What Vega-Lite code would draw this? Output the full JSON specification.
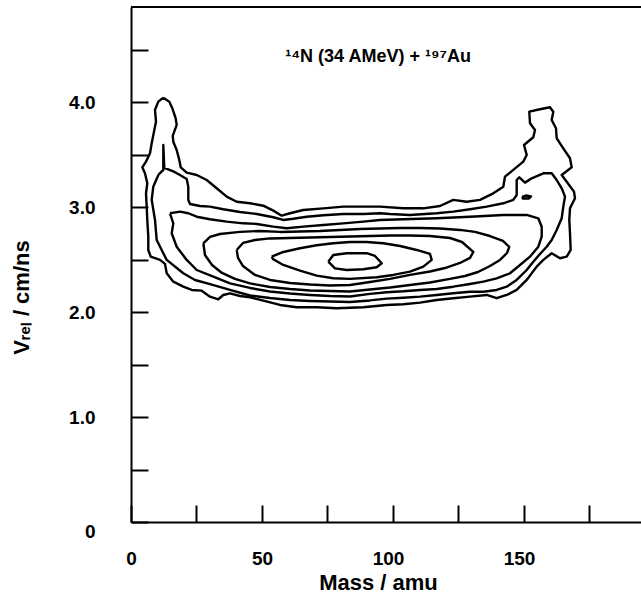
{
"$schema": "https://vega.github.io/schema/vega-lite/v6.json",
"width": 510, "height": 515,
"autosize": "none",
"padding": {"left": 131, "top": 7, "right": 0, "bottom": 73},
"background": "white",
"config": {"view": {"stroke": null}, "font": "Liberation Sans"},
"datasets": {
"label": [{"m": 94.3, "v": 4.433, "t": "¹⁴N (34 AMeV) + ¹⁹⁷Au"}],
"contours": [
{"c":1,"i":0,"m":12.33,"v":4.045},{"c":1,"i":1,"m":14.62,"v":4.007},{"c":1,"i":2,"m":15.92,"v":3.934},{"c":1,"i":3,"m":17.06,"v":3.848},{"c":1,"i":4,"m":17.44,"v":3.785},{"c":1,"i":5,"m":15.92,"v":3.68},{"c":1,"i":6,"m":16.15,"v":3.625},{"c":1,"i":7,"m":17.44,"v":3.546},{"c":1,"i":8,"m":18.43,"v":3.451},{"c":1,"i":9,"m":18.97,"v":3.381},{"c":1,"i":10,"m":21.26,"v":3.33},{"c":1,"i":11,"m":25.08,"v":3.308},{"c":1,"i":12,"m":28.89,"v":3.26},{"c":1,"i":13,"m":32.71,"v":3.181},{"c":1,"i":14,"m":36.53,"v":3.101},{"c":1,"i":15,"m":40.34,"v":3.053},{"c":1,"i":16,"m":45.42,"v":3.038},{"c":1,"i":17,"m":50.5,"v":3.015},{"c":1,"i":18,"m":54.31,"v":2.968},{"c":1,"i":19,"m":57.52,"v":2.92},{"c":1,"i":20,"m":60.69,"v":2.943},{"c":1,"i":21,"m":65.76,"v":2.974},{"c":1,"i":22,"m":73.4,"v":2.99},{"c":1,"i":23,"m":81.03,"v":3.006},{"c":1,"i":24,"m":88.66,"v":3.006},{"c":1,"i":25,"m":95.04,"v":3.006},{"c":1,"i":26,"m":103.93,"v":2.99},{"c":1,"i":27,"m":111.56,"v":2.99},{"c":1,"i":28,"m":117.94,"v":3.012},{"c":1,"i":29,"m":123.02,"v":3.07},{"c":1,"i":30,"m":128.13,"v":3.053},{"c":1,"i":31,"m":133.21,"v":3.07},{"c":1,"i":32,"m":138.28,"v":3.133},{"c":1,"i":33,"m":142.1,"v":3.196},{"c":1,"i":34,"m":142.75,"v":3.292},{"c":1,"i":35,"m":145.92,"v":3.356},{"c":1,"i":36,"m":149.73,"v":3.435},{"c":1,"i":37,"m":151.03,"v":3.499},{"c":1,"i":38,"m":150.0,"v":3.594},{"c":1,"i":39,"m":153.55,"v":3.667},{"c":1,"i":40,"m":154.2,"v":3.737},{"c":1,"i":41,"m":152.29,"v":3.801},{"c":1,"i":42,"m":152.02,"v":3.911},{"c":1,"i":43,"m":156.11,"v":3.934},{"c":1,"i":44,"m":159.92,"v":3.953},{"c":1,"i":45,"m":161.18,"v":3.911},{"c":1,"i":46,"m":160.57,"v":3.832},{"c":1,"i":47,"m":162.21,"v":3.753},{"c":1,"i":48,"m":162.48,"v":3.658},{"c":1,"i":49,"m":165.0,"v":3.562},{"c":1,"i":50,"m":167.56,"v":3.467},{"c":1,"i":51,"m":168.21,"v":3.381},{"c":1,"i":52,"m":164.39,"v":3.308},{"c":1,"i":53,"m":166.3,"v":3.244},{"c":1,"i":54,"m":169.08,"v":3.149},{"c":1,"i":55,"m":169.47,"v":3.086},{"c":1,"i":56,"m":167.56,"v":2.99},{"c":1,"i":57,"m":167.29,"v":2.879},{"c":1,"i":58,"m":167.56,"v":2.752},{"c":1,"i":59,"m":167.82,"v":2.593},{"c":1,"i":60,"m":166.3,"v":2.529},{"c":1,"i":61,"m":163.74,"v":2.514},{"c":1,"i":62,"m":160.57,"v":2.562},{"c":1,"i":63,"m":157.37,"v":2.498},{"c":1,"i":64,"m":154.85,"v":2.434},{"c":1,"i":65,"m":151.03,"v":2.307},{"c":1,"i":66,"m":147.21,"v":2.212},{"c":1,"i":67,"m":143.4,"v":2.164},{"c":1,"i":68,"m":139.58,"v":2.133},{"c":1,"i":69,"m":135.76,"v":2.164},{"c":1,"i":70,"m":129.39,"v":2.148},{"c":1,"i":71,"m":123.02,"v":2.133},{"c":1,"i":72,"m":116.68,"v":2.116},{"c":1,"i":73,"m":110.31,"v":2.091},{"c":1,"i":74,"m":103.93,"v":2.075},{"c":1,"i":75,"m":97.6,"v":2.069},{"c":1,"i":76,"m":88.66,"v":2.047},{"c":1,"i":77,"m":78.51,"v":2.037},{"c":1,"i":78,"m":70.88,"v":2.047},{"c":1,"i":79,"m":63.24,"v":2.047},{"c":1,"i":80,"m":56.87,"v":2.069},{"c":1,"i":81,"m":50.5,"v":2.11},{"c":1,"i":82,"m":45.42,"v":2.142},{"c":1,"i":83,"m":41.6,"v":2.154},{"c":1,"i":84,"m":37.79,"v":2.18},{"c":1,"i":85,"m":35.23,"v":2.164},{"c":1,"i":86,"m":33.32,"v":2.123},{"c":1,"i":87,"m":30.15,"v":2.148},{"c":1,"i":88,"m":26.98,"v":2.205},{"c":1,"i":89,"m":23.17,"v":2.212},{"c":1,"i":90,"m":19.96,"v":2.243},{"c":1,"i":91,"m":16.15,"v":2.291},{"c":1,"i":92,"m":13.63,"v":2.371},{"c":1,"i":93,"m":12.98,"v":2.46},{"c":1,"i":94,"m":11.07,"v":2.498},{"c":1,"i":95,"m":7.52,"v":2.529},{"c":1,"i":96,"m":6.6,"v":2.593},{"c":1,"i":97,"m":6.6,"v":2.72},{"c":1,"i":98,"m":6.22,"v":2.879},{"c":1,"i":99,"m":5.99,"v":3.006},{"c":1,"i":100,"m":5.73,"v":3.133},{"c":1,"i":101,"m":6.22,"v":3.229},{"c":1,"i":102,"m":5.34,"v":3.324},{"c":1,"i":103,"m":4.31,"v":3.381},{"c":1,"i":104,"m":5.73,"v":3.435},{"c":1,"i":105,"m":7.25,"v":3.515},{"c":1,"i":106,"m":7.9,"v":3.61},{"c":1,"i":107,"m":8.78,"v":3.721},{"c":1,"i":108,"m":9.54,"v":3.816},{"c":1,"i":109,"m":9.16,"v":3.928},{"c":1,"i":110,"m":10.42,"v":4.007},{"c":1,"i":111,"m":12.33,"v":4.045},
{"c":2,"i":0,"m":10.42,"v":3.308},{"c":2,"i":1,"m":12.33,"v":3.356},{"c":2,"i":2,"m":12.33,"v":3.594},{"c":2,"i":3,"m":12.71,"v":3.375},{"c":2,"i":4,"m":16.15,"v":3.342},{"c":2,"i":5,"m":18.7,"v":3.308},{"c":2,"i":6,"m":21.26,"v":3.269},{"c":2,"i":7,"m":21.87,"v":3.196},{"c":2,"i":8,"m":21.87,"v":3.07},{"c":2,"i":9,"m":22.52,"v":3.031},{"c":2,"i":10,"m":26.34,"v":3.012},{"c":2,"i":11,"m":30.15,"v":3.006},{"c":2,"i":12,"m":35.23,"v":2.981},{"c":2,"i":13,"m":41.6,"v":2.955},{"c":2,"i":14,"m":47.98,"v":2.936},{"c":2,"i":15,"m":54.31,"v":2.905},{"c":2,"i":16,"m":58.13,"v":2.879},{"c":2,"i":17,"m":61.95,"v":2.891},{"c":2,"i":18,"m":67.06,"v":2.91},{"c":2,"i":19,"m":73.4,"v":2.924},{"c":2,"i":20,"m":81.03,"v":2.936},{"c":2,"i":21,"m":88.66,"v":2.936},{"c":2,"i":22,"m":95.04,"v":2.943},{"c":2,"i":23,"m":98.85,"v":2.936},{"c":2,"i":24,"m":106.49,"v":2.927},{"c":2,"i":25,"m":116.68,"v":2.943},{"c":2,"i":26,"m":123.02,"v":2.958},{"c":2,"i":27,"m":129.39,"v":2.981},{"c":2,"i":28,"m":135.76,"v":3.006},{"c":2,"i":29,"m":142.1,"v":3.038},{"c":2,"i":30,"m":145.92,"v":3.07},{"c":2,"i":31,"m":147.21,"v":3.117},{"c":2,"i":32,"m":147.21,"v":3.26},{"c":2,"i":33,"m":148.21,"v":3.286},{"c":2,"i":34,"m":150.38,"v":3.235},{"c":2,"i":35,"m":152.94,"v":3.276},{"c":2,"i":36,"m":157.37,"v":3.324},{"c":2,"i":37,"m":160.57,"v":3.324},{"c":2,"i":38,"m":162.48,"v":3.26},{"c":2,"i":39,"m":164.39,"v":3.181},{"c":2,"i":40,"m":165.65,"v":3.101},{"c":2,"i":41,"m":165.0,"v":3.006},{"c":2,"i":42,"m":164.39,"v":2.895},{"c":2,"i":43,"m":162.48,"v":2.784},{"c":2,"i":44,"m":160.57,"v":2.688},{"c":2,"i":45,"m":158.66,"v":2.624},{"c":2,"i":46,"m":156.11,"v":2.555},{"c":2,"i":47,"m":153.55,"v":2.481},{"c":2,"i":48,"m":151.03,"v":2.402},{"c":2,"i":49,"m":147.21,"v":2.307},{"c":2,"i":50,"m":143.4,"v":2.243},{"c":2,"i":51,"m":139.58,"v":2.212},{"c":2,"i":52,"m":134.47,"v":2.195},{"c":2,"i":53,"m":129.39,"v":2.195},{"c":2,"i":54,"m":123.02,"v":2.18},{"c":2,"i":55,"m":116.68,"v":2.164},{"c":2,"i":56,"m":110.31,"v":2.148},{"c":2,"i":57,"m":103.93,"v":2.138},{"c":2,"i":58,"m":97.6,"v":2.129},{"c":2,"i":59,"m":91.22,"v":2.112},{"c":2,"i":60,"m":83.59,"v":2.097},{"c":2,"i":61,"m":75.95,"v":2.102},{"c":2,"i":62,"m":68.32,"v":2.107},{"c":2,"i":63,"m":60.69,"v":2.116},{"c":2,"i":64,"m":53.05,"v":2.135},{"c":2,"i":65,"m":45.42,"v":2.159},{"c":2,"i":66,"m":37.79,"v":2.212},{"c":2,"i":67,"m":30.15,"v":2.268},{"c":2,"i":68,"m":24.43,"v":2.307},{"c":2,"i":69,"m":19.96,"v":2.371},{"c":2,"i":70,"m":13.63,"v":2.498},{"c":2,"i":71,"m":12.33,"v":2.562},{"c":2,"i":72,"m":9.81,"v":2.688},{"c":2,"i":73,"m":9.16,"v":2.879},{"c":2,"i":74,"m":7.9,"v":3.07},{"c":2,"i":75,"m":8.51,"v":3.196},{"c":2,"i":76,"m":10.42,"v":3.308},
{"c":3,"i":0,"m":14.89,"v":2.943},{"c":3,"i":1,"m":18.7,"v":2.958},{"c":3,"i":2,"m":21.87,"v":2.943},{"c":3,"i":3,"m":25.08,"v":2.91},{"c":3,"i":4,"m":30.15,"v":2.886},{"c":3,"i":5,"m":36.53,"v":2.863},{"c":3,"i":6,"m":42.86,"v":2.847},{"c":3,"i":7,"m":47.98,"v":2.841},{"c":3,"i":8,"m":54.31,"v":2.815},{"c":3,"i":9,"m":59.43,"v":2.8},{"c":3,"i":10,"m":65.76,"v":2.815},{"c":3,"i":11,"m":73.4,"v":2.831},{"c":3,"i":12,"m":81.03,"v":2.847},{"c":3,"i":13,"m":88.66,"v":2.863},{"c":3,"i":14,"m":95.04,"v":2.879},{"c":3,"i":15,"m":103.93,"v":2.886},{"c":3,"i":16,"m":116.68,"v":2.895},{"c":3,"i":17,"m":129.39,"v":2.91},{"c":3,"i":18,"m":142.1,"v":2.927},{"c":3,"i":19,"m":151.03,"v":2.927},{"c":3,"i":20,"m":155.46,"v":2.895},{"c":3,"i":21,"m":156.76,"v":2.815},{"c":3,"i":22,"m":156.76,"v":2.72},{"c":3,"i":23,"m":155.46,"v":2.624},{"c":3,"i":24,"m":152.29,"v":2.529},{"c":3,"i":25,"m":148.47,"v":2.45},{"c":3,"i":26,"m":144.66,"v":2.371},{"c":3,"i":27,"m":139.58,"v":2.323},{"c":3,"i":28,"m":134.47,"v":2.291},{"c":3,"i":29,"m":129.39,"v":2.269},{"c":3,"i":30,"m":123.02,"v":2.243},{"c":3,"i":31,"m":116.68,"v":2.221},{"c":3,"i":32,"m":110.31,"v":2.212},{"c":3,"i":33,"m":103.93,"v":2.199},{"c":3,"i":34,"m":97.6,"v":2.19},{"c":3,"i":35,"m":91.22,"v":2.174},{"c":3,"i":36,"m":83.59,"v":2.15},{"c":3,"i":37,"m":75.95,"v":2.154},{"c":3,"i":38,"m":68.32,"v":2.164},{"c":3,"i":39,"m":60.69,"v":2.178},{"c":3,"i":40,"m":53.05,"v":2.197},{"c":3,"i":41,"m":45.42,"v":2.231},{"c":3,"i":42,"m":37.79,"v":2.275},{"c":3,"i":43,"m":31.41,"v":2.338},{"c":3,"i":44,"m":25.08,"v":2.402},{"c":3,"i":45,"m":21.26,"v":2.498},{"c":3,"i":46,"m":17.44,"v":2.624},{"c":3,"i":47,"m":15.53,"v":2.752},{"c":3,"i":48,"m":16.15,"v":2.847},{"c":3,"i":49,"m":14.89,"v":2.943},
{"c":4,"i":0,"m":27.6,"v":2.657},{"c":4,"i":1,"m":30.15,"v":2.717},{"c":4,"i":2,"m":33.97,"v":2.745},{"c":4,"i":3,"m":41.6,"v":2.765},{"c":4,"i":4,"m":49.24,"v":2.774},{"c":4,"i":5,"m":56.87,"v":2.765},{"c":4,"i":6,"m":64.5,"v":2.769},{"c":4,"i":7,"m":72.14,"v":2.774},{"c":4,"i":8,"m":79.77,"v":2.784},{"c":4,"i":9,"m":87.4,"v":2.793},{"c":4,"i":10,"m":95.04,"v":2.798},{"c":4,"i":11,"m":102.67,"v":2.803},{"c":4,"i":12,"m":110.31,"v":2.803},{"c":4,"i":13,"m":117.94,"v":2.798},{"c":4,"i":14,"m":125.57,"v":2.784},{"c":4,"i":15,"m":131.3,"v":2.765},{"c":4,"i":16,"m":137.02,"v":2.726},{"c":4,"i":17,"m":141.98,"v":2.679},{"c":4,"i":18,"m":144.39,"v":2.622},{"c":4,"i":19,"m":143.51,"v":2.564},{"c":4,"i":20,"m":140.84,"v":2.498},{"c":4,"i":21,"m":137.02,"v":2.44},{"c":4,"i":22,"m":132.44,"v":2.383},{"c":4,"i":23,"m":127.48,"v":2.345},{"c":4,"i":24,"m":121.76,"v":2.317},{"c":4,"i":25,"m":114.12,"v":2.283},{"c":4,"i":26,"m":106.49,"v":2.259},{"c":4,"i":27,"m":98.85,"v":2.235},{"c":4,"i":28,"m":91.22,"v":2.216},{"c":4,"i":29,"m":83.59,"v":2.197},{"c":4,"i":30,"m":75.95,"v":2.202},{"c":4,"i":31,"m":68.32,"v":2.207},{"c":4,"i":32,"m":60.69,"v":2.221},{"c":4,"i":33,"m":53.05,"v":2.24},{"c":4,"i":34,"m":45.42,"v":2.274},{"c":4,"i":35,"m":39.69,"v":2.317},{"c":4,"i":36,"m":34.73,"v":2.374},{"c":4,"i":37,"m":30.92,"v":2.45},{"c":4,"i":38,"m":28.24,"v":2.545},{"c":4,"i":39,"m":27.6,"v":2.657},
{"c":5,"i":0,"m":40.34,"v":2.593},{"c":5,"i":1,"m":42.75,"v":2.66},{"c":5,"i":2,"m":47.33,"v":2.688},{"c":5,"i":3,"m":53.05,"v":2.703},{"c":5,"i":4,"m":60.69,"v":2.707},{"c":5,"i":5,"m":68.32,"v":2.712},{"c":5,"i":6,"m":75.95,"v":2.717},{"c":5,"i":7,"m":83.59,"v":2.722},{"c":5,"i":8,"m":91.22,"v":2.726},{"c":5,"i":9,"m":98.85,"v":2.731},{"c":5,"i":10,"m":106.49,"v":2.731},{"c":5,"i":11,"m":114.12,"v":2.726},{"c":5,"i":12,"m":121.76,"v":2.707},{"c":5,"i":13,"m":126.34,"v":2.669},{"c":5,"i":14,"m":130.65,"v":2.574},{"c":5,"i":15,"m":129.39,"v":2.517},{"c":5,"i":16,"m":125.57,"v":2.469},{"c":5,"i":17,"m":119.85,"v":2.421},{"c":5,"i":18,"m":114.12,"v":2.388},{"c":5,"i":19,"m":106.49,"v":2.355},{"c":5,"i":20,"m":98.85,"v":2.317},{"c":5,"i":21,"m":91.22,"v":2.288},{"c":5,"i":22,"m":83.59,"v":2.259},{"c":5,"i":23,"m":75.95,"v":2.255},{"c":5,"i":24,"m":68.32,"v":2.264},{"c":5,"i":25,"m":60.69,"v":2.278},{"c":5,"i":26,"m":53.05,"v":2.307},{"c":5,"i":27,"m":47.33,"v":2.355},{"c":5,"i":28,"m":42.75,"v":2.44},{"c":5,"i":29,"m":40.84,"v":2.517},{"c":5,"i":30,"m":40.34,"v":2.593},
{"c":6,"i":0,"m":53.7,"v":2.529},{"c":6,"i":1,"m":58.13,"v":2.574},{"c":6,"i":2,"m":64.5,"v":2.609},{"c":6,"i":3,"m":70.88,"v":2.638},{"c":6,"i":4,"m":77.21,"v":2.657},{"c":6,"i":5,"m":83.59,"v":2.669},{"c":6,"i":6,"m":89.96,"v":2.669},{"c":6,"i":7,"m":96.3,"v":2.657},{"c":6,"i":8,"m":102.67,"v":2.631},{"c":6,"i":9,"m":109.05,"v":2.593},{"c":6,"i":10,"m":114.12,"v":2.555},{"c":6,"i":11,"m":114.77,"v":2.498},{"c":6,"i":12,"m":111.56,"v":2.434},{"c":6,"i":13,"m":106.49,"v":2.386},{"c":6,"i":14,"m":100.11,"v":2.355},{"c":6,"i":15,"m":93.78,"v":2.333},{"c":6,"i":16,"m":83.59,"v":2.317},{"c":6,"i":17,"m":77.21,"v":2.323},{"c":6,"i":18,"m":70.88,"v":2.348},{"c":6,"i":19,"m":64.5,"v":2.396},{"c":6,"i":20,"m":58.13,"v":2.45},{"c":6,"i":21,"m":54.31,"v":2.504},{"c":6,"i":22,"m":53.7,"v":2.529},
{"c":7,"i":0,"m":75.31,"v":2.481},{"c":7,"i":1,"m":77.21,"v":2.545},{"c":7,"i":2,"m":82.33,"v":2.562},{"c":7,"i":3,"m":89.96,"v":2.562},{"c":7,"i":4,"m":93.13,"v":2.536},{"c":7,"i":5,"m":95.69,"v":2.466},{"c":7,"i":6,"m":93.78,"v":2.428},{"c":7,"i":7,"m":88.66,"v":2.409},{"c":7,"i":8,"m":82.33,"v":2.402},{"c":7,"i":9,"m":77.86,"v":2.418},{"c":7,"i":10,"m":75.31,"v":2.481},
{"c":8,"i":0,"m":149.24,"v":3.098},{"c":8,"i":1,"m":150.76,"v":3.112},{"c":8,"i":2,"m":152.67,"v":3.103},{"c":8,"i":3,"m":151.91,"v":3.084},{"c":8,"i":4,"m":149.62,"v":3.084},{"c":8,"i":5,"m":149.24,"v":3.098}
]
},
"layer": [
{
"data": {"name": "contours"},
"mark": {"type": "line", "stroke": "black", "strokeWidth": 2.4, "strokeJoin": "round", "clip": true},
"encoding": {
"x": {"field": "m", "type": "quantitative",
 "scale": {"domain": [0, 194.66], "nice": false, "zero": false},
 "axis": {"values": [0, 25, 50, 75, 100, 125, 150, 175], "grid": false, "tickSize": -17, "tickWidth": 2, "tickColor": "black",
  "domainColor": "black", "domainWidth": 2, "format": "d",
  "labelExpr": "datum.value % 50 == 0 ? datum.label : ''",
  "labelFont": "Liberation Sans", "labelFontSize": 19, "labelFontWeight": "bold", "labelColor": "black",
  "labelPadding": 59, "labelBaseline": "alphabetic", "labelFlush": false, "labelOverlap": false, "labelBound": false,
  "labelOffset": {"condition": {"test": "datum.value >= 100", "value": -5}, "value": 0},
  "title": "Mass /  amu", "titleFont": "Liberation Sans", "titleFontSize": 22, "titleFontWeight": "bold", "titleColor": "black",
  "titleX": 247, "titleY": 67, "titleBaseline": "alphabetic", "titleAlign": "center"}},
"y": {"field": "v", "type": "quantitative",
 "scale": {"domain": [0, 4.909], "nice": false, "zero": false},
 "axis": {"values": [0, 0.5, 1, 1.5, 2, 2.5, 3, 3.5, 4, 4.5], "grid": false, "tickSize": -17, "tickWidth": 2, "tickColor": "black",
  "domainColor": "black", "domainWidth": 2,
  "labelExpr": "datum.value == 0 ? '0' : (datum.value % 1 == 0 ? format(datum.value, '.1f') : '')",
  "labelFont": "Liberation Sans", "labelFontSize": 19, "labelFontWeight": "bold", "labelColor": "black",
  "labelPadding": 53, "labelBaseline": "middle", "labelFlush": false, "labelOverlap": false, "labelBound": false,
  "labelOffset": {"condition": {"test": "datum.value == 0", "value": 9}, "value": 0},
  "title": "Vᵣₑₗ /  cm/ns", "titleFont": "Liberation Sans", "titleFontSize": 22, "titleFontWeight": "bold", "titleColor": "black",
  "titleX": -110, "titleY": 290, "titleAngle": 270, "titleBaseline": "middle", "titleAlign": "center"}},
"detail": {"field": "c", "type": "nominal"},
"order": {"field": "i", "type": "quantitative"}
}
},
{
"data": {"values": [{}]},
"mark": {"type": "rule", "stroke": "black", "strokeWidth": 2},
"encoding": {"y": {"datum": 4.909}}
},
{
"data": {"name": "label"},
"mark": {"type": "text", "font": "Liberation Sans", "fontSize": 18, "fontWeight": "bold", "align": "center", "baseline": "middle", "color": "black"},
"encoding": {
"x": {"field": "m", "type": "quantitative"},
"y": {"field": "v", "type": "quantitative"},
"text": {"field": "t", "type": "nominal"}
}
}
]
}
